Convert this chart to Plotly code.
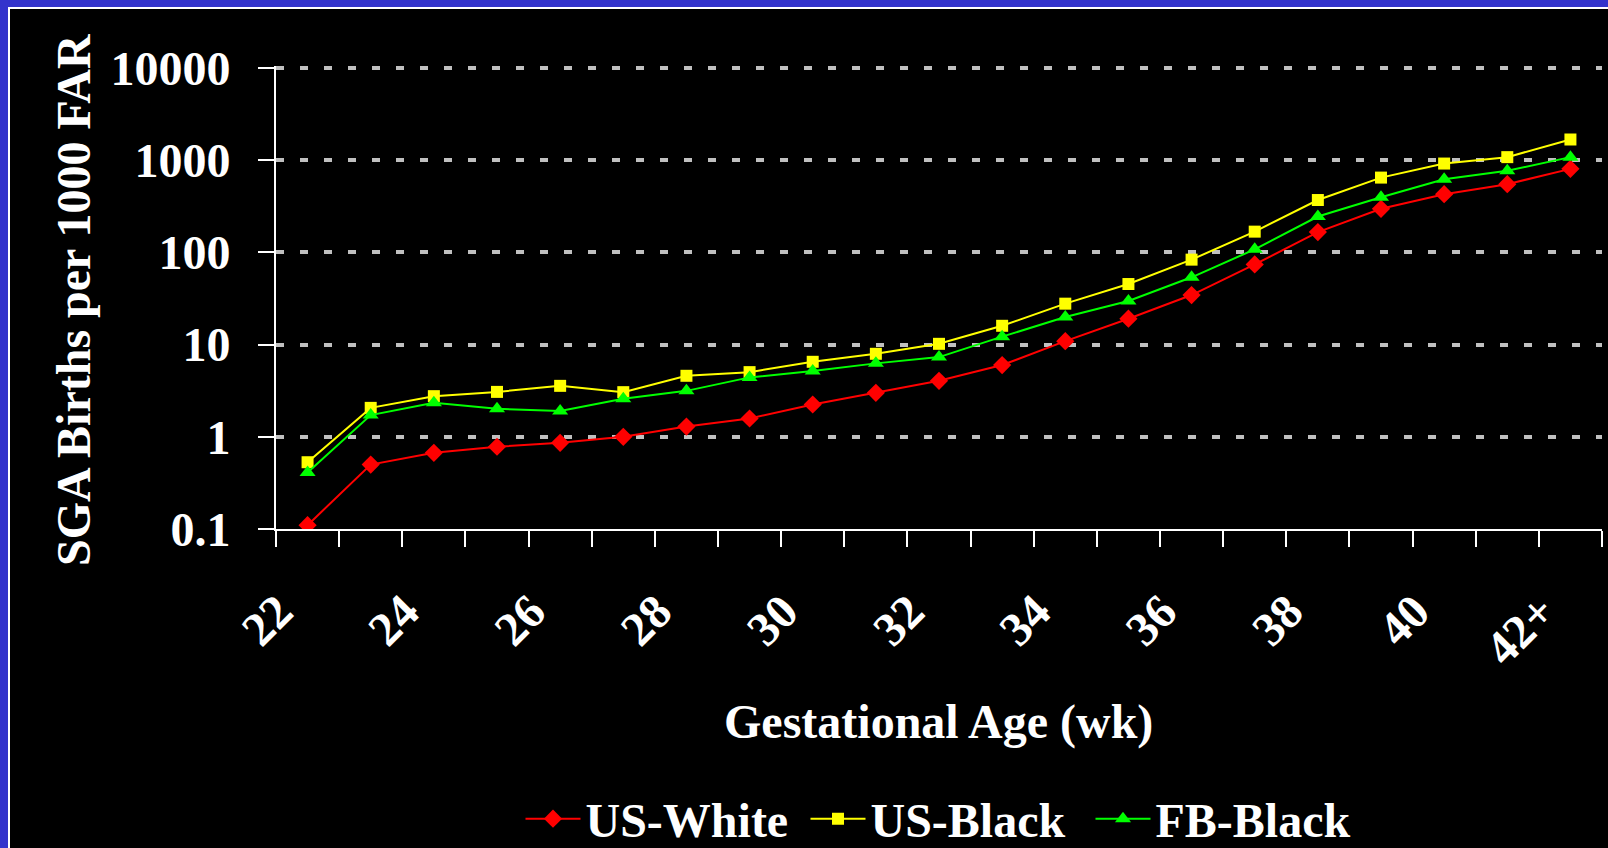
import plotly.graph_objects as go

categories = ["22", "23", "24", "25", "26", "27", "28", "29", "30", "31", "32",
              "33", "34", "35", "36", "37", "38", "39", "40", "41", "42+"]
tick_labels = ["22", "", "24", "", "26", "", "28", "", "30", "", "32",
               "", "34", "", "36", "", "38", "", "40", "", "42+"]

us_white = [0.11, 0.50, 0.67, 0.78, 0.86, 1.0, 1.29, 1.58, 2.24, 3.0, 4.05,
            6.0, 10.9, 19.1, 34.5, 74, 166, 297, 428, 550, 806]
us_black = [0.53, 2.06, 2.76, 3.07, 3.57, 3.05, 4.59, 5.03, 6.51, 7.95, 10.2,
            16.0, 27.8, 45.4, 83.5, 168, 370, 648, 920, 1080, 1678]
fb_black = [0.41, 1.72, 2.34, 2.01, 1.91, 2.58, 3.15, 4.41, 5.16, 6.26, 7.32,
            12.2, 19.9, 29.7, 53.7, 108, 245, 397, 623, 767, 1080]

y_tickvals = [0.1, 1, 10, 100, 1000, 10000]
y_ticktext = ["0.1", "1", "10", "100", "1000", "10000"]

FONT = "Liberation Serif"

fig = go.Figure()
series = [
    ("US-White", us_white, "#ff0000", "diamond", 14),
    ("US-Black", us_black, "#ffff00", "square", 12),
    ("FB-Black", fb_black, "#00ff00", "triangle-up", 14),
]
for name, vals, col, sym, sz in series:
    fig.add_trace(go.Scatter(
        x=categories, y=vals, name=name, mode="lines+markers",
        line=dict(color=col, width=2),
        marker=dict(symbol=sym, size=sz, color=col),
    ))

W, H = 1608, 848
L, R, T, B = 276, 6, 66, 319
pw, ph = W - L - R, H - T - B

def px_x(x):
    return (x - L) / pw

def px_y(y):
    return (H - B - y) / ph

fig.update_layout(
    width=W, height=H,
    margin=dict(l=L, r=R, t=T, b=B, pad=0, autoexpand=False),
    paper_bgcolor="#3333cc",
    plot_bgcolor="#000000",
    font=dict(family=FONT, size=48, color="white", weight="bold"),
    showlegend=True,
    legend=dict(orientation="h", x=px_x(948), xanchor="center", y=px_y(819), yanchor="middle",
                font=dict(family=FONT, size=48, color="white", weight="bold"),
                bgcolor="rgba(0,0,0,0)", itemwidth=55, tracegroupgap=0,
                entrywidth=215, entrywidthmode="pixels"),
    shapes=[dict(type="rect", xref="paper", yref="paper",
                 x0=px_x(9), x1=px_x(W + 20), y0=px_y(H + 20), y1=px_y(8),
                 fillcolor="#000000", line=dict(color="white", width=2), layer="below")],
    annotations=[
        dict(text="SGA Births per 1000 FAR", xref="paper", yref="paper",
             x=px_x(73), y=px_y(299), textangle=-90, showarrow=False,
             xanchor="center", yanchor="middle",
             font=dict(family=FONT, size=48, color="white", weight="bold")),
        dict(text="Gestational Age (wk)", xref="paper", yref="paper",
             x=px_x(938), y=px_y(722), showarrow=False,
             xanchor="center", yanchor="middle",
             font=dict(family=FONT, size=48, color="white", weight="bold")),
    ],
)

fig.update_xaxes(
    type="category", categoryorder="array", categoryarray=categories,
    range=[-0.5, len(categories) - 0.5], automargin=False,
    tickmode="array", tickvals=categories, ticktext=tick_labels,
    tickson="boundaries", ticks="outside", ticklen=16, tickwidth=2, tickcolor="white",
    showline=True, linecolor="white", linewidth=2, showgrid=False,
    tickangle=-45, ticklabelstandoff=33, ticklabelshift=-29,
    tickfont=dict(family=FONT, size=48, color="white", weight="bold"),
)
fig.update_yaxes(
    type="log", range=[-1, 4.022], automargin=False,
    tickmode="array", tickvals=y_tickvals, ticktext=y_ticktext,
    ticks="outside", ticklen=16, tickwidth=2, tickcolor="white",
    showline=True, linecolor="white", linewidth=2,
    showgrid=True, gridcolor="#c0c0c0", gridwidth=4, griddash="8px,16px",
    ticklabelstandoff=18,
    tickfont=dict(family=FONT, size=48, color="white", weight="bold"),
)

fig.write_html("out.html", config={"displayModeBar": False},
               post_script="document.body.style.margin='0';")
